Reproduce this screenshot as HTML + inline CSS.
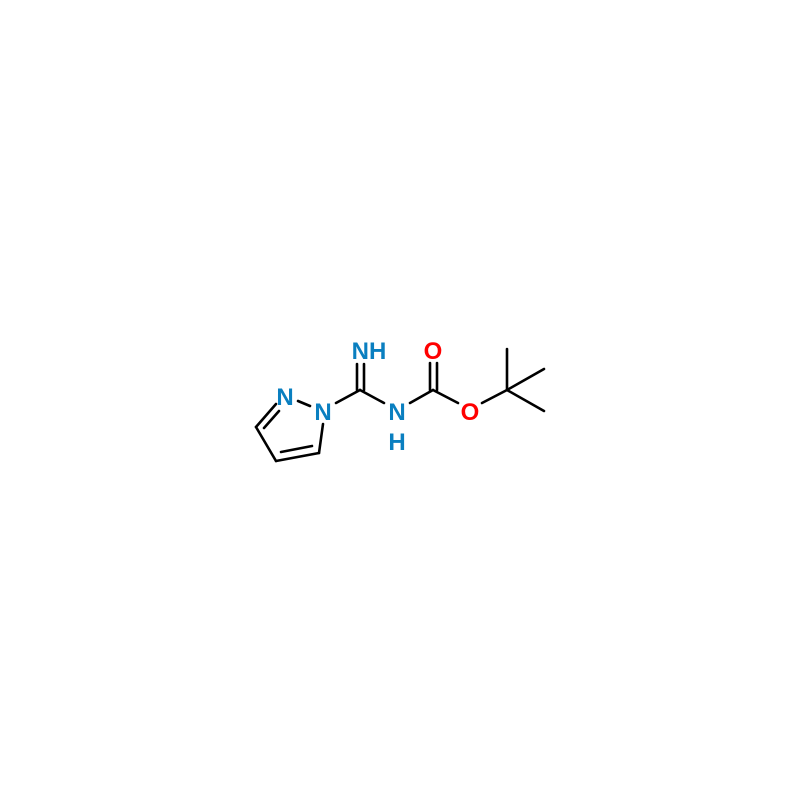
<!DOCTYPE html>
<html><head><style>body{margin:0;background:#fff}</style></head><body>
<svg width="800" height="800" xmlns="http://www.w3.org/2000/svg">
<g stroke="#000" stroke-width="2.6" fill="none" stroke-linecap="round">
<line x1="298" y1="401" x2="310" y2="406"/>
<line x1="323" y1="424" x2="319" y2="453"/>
<line x1="319" y1="453" x2="276" y2="461"/>
<line x1="312" y1="446" x2="281" y2="452"/>
<line x1="276" y1="461" x2="256" y2="427"/>
<line x1="256" y1="427" x2="276" y2="404"/>
<line x1="264" y1="428" x2="279" y2="411"/>
<line x1="336" y1="403" x2="360" y2="390"/>
<line x1="357" y1="390" x2="357" y2="364"/>
<line x1="364" y1="390" x2="364" y2="364"/>
<line x1="360" y1="390" x2="384" y2="403"/>
<line x1="410" y1="403" x2="433" y2="390"/>
<line x1="430" y1="390" x2="430" y2="363"/>
<line x1="437" y1="390" x2="437" y2="363"/>
<line x1="433" y1="390" x2="458" y2="403"/>
<line x1="482" y1="403" x2="507" y2="390"/>
<line x1="507" y1="390" x2="507" y2="349"/>
<line x1="507" y1="390" x2="544" y2="369"/>
<line x1="507" y1="390" x2="544" y2="411"/>
</g>
<g style="font-family:'Liberation Sans',sans-serif" font-size="24" font-weight="bold" text-anchor="middle">
<text x="285" y="405" fill="#0a7fc0">N</text>
<text x="323" y="420" fill="#0a7fc0">N</text>
<text x="369" y="359" fill="#0a7fc0">NH</text>
<text x="397" y="420" fill="#0a7fc0">N</text>
<text x="397" y="450" fill="#0a7fc0">H</text>
<text x="433" y="359" fill="#f00">O</text>
<text x="470" y="420" fill="#f00">O</text>
</g>
</svg>
</body></html>
